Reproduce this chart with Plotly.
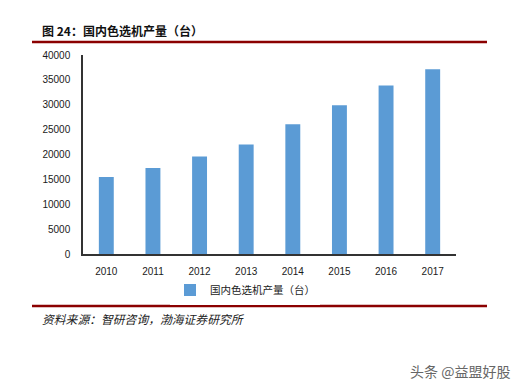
import plotly.graph_objects as go

years = ["2010", "2011", "2012", "2013", "2014", "2015", "2016", "2017"]
output = [15500, 17300, 19600, 22000, 26100, 29900, 33850, 37150]
y_ticks = [0, 5000, 10000, 15000, 20000, 25000, 30000, 35000, 40000]
series_name = "国内色选机产量（台）"
title_text = "图 24：国内色选机产量（台）"
source_text = "资料来源：智研咨询，渤海证券研究所"
watermark = "头条 @益盟好股"

W, H = 529, 388
L, R, T, B = 83, 456, 55, 254
BAR_COLOR = "#5B9BD5"


def px(x):
    return (x - L) / (R - L)


def py(y):
    return (B - y) / (B - T)


fig = go.Figure()
fig.add_trace(go.Bar(
    x=years, y=output, name=series_name,
    marker=dict(color=BAR_COLOR, line=dict(width=0)),
    showlegend=False,
))
# legend proxy with a small square symbol
fig.add_trace(go.Scatter(
    x=[None], y=[None], mode="markers", name=series_name,
    marker=dict(symbol="square", size=6, color=BAR_COLOR),
    showlegend=True,
))

font_cjk = "Noto Sans CJK SC, Liberation Sans, sans-serif"
font_num = "Liberation Sans, Arial, sans-serif"

fig.update_layout(
    width=W, height=H,
    margin=dict(l=L, r=W - R, t=T, b=H - B, pad=0, autoexpand=False),
    paper_bgcolor="white", plot_bgcolor="white",
    bargap=0.68,
    font=dict(family=font_cjk, size=10, color="#1a1a1a"),
    xaxis=dict(
        showline=True, linecolor="#333333", linewidth=1.5,
        ticks="", showgrid=False, fixedrange=True,
        tickfont=dict(size=10, color="#1a1a1a", family=font_num),
        ticklabelstandoff=7,
    ),
    yaxis=dict(
        range=[0, 40000], tickvals=y_ticks,
        ticktext=[str(v) for v in y_ticks],
        showline=True, linecolor="#333333", linewidth=1.5,
        ticks="", showgrid=False, zeroline=False, fixedrange=True,
        tickfont=dict(size=10, color="#1a1a1a", family=font_num),
        ticklabelstandoff=9,
    ),
    legend=dict(
        orientation="h", x=px(170), xanchor="left", y=py(290), yanchor="middle",
        font=dict(size=10.5, color="#1a1a1a"), itemwidth=30, itemsizing="constant",
        tracegroupgap=0,
    ),
    showlegend=True,
)

# header and footer rules
for yy in (42, 306):
    fig.add_shape(type="line", xref="paper", yref="paper",
                  x0=px(32), x1=px(487), y0=py(yy), y1=py(yy),
                  line=dict(color="#8B0000", width=2.5))

fig.add_annotation(text="<b>" + title_text + "</b>", xref="paper", yref="paper",
                   x=px(40), y=py(31), xanchor="left", yanchor="middle",
                   showarrow=False, font=dict(size=12, color="#111111", family=font_cjk))
fig.add_annotation(text="<i>" + source_text + "</i>", xref="paper", yref="paper",
                   x=px(40), y=py(318), xanchor="left", yanchor="middle",
                   showarrow=False, font=dict(size=11.8, color="#222222", family=font_cjk))
fig.add_annotation(text=watermark, xref="paper", yref="paper",
                   x=px(512), y=py(371), xanchor="right", yanchor="middle",
                   showarrow=False, font=dict(size=14, color="#666666", family=font_cjk))

fig.write_html("out.html", config={"displayModeBar": False},
               post_script="document.body.style.margin='0';")
